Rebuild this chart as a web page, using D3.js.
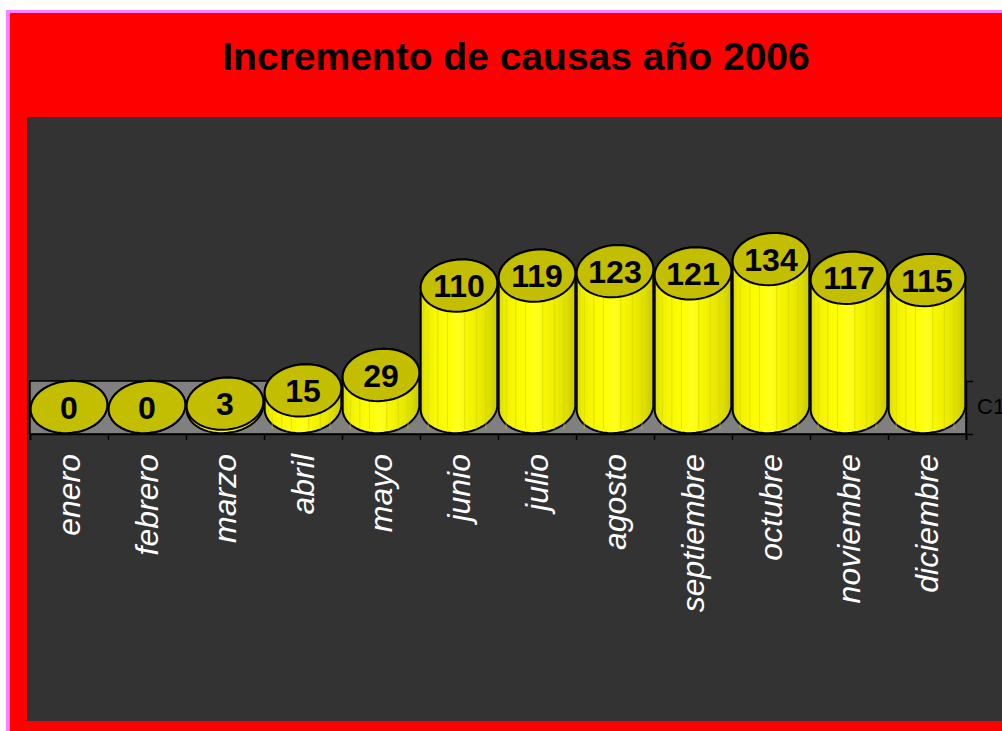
<!DOCTYPE html>
<html lang="es">
<head>
    <meta charset="UTF-8">
    <title>Incremento de causas año 2006</title>
    <script src="https://d3js.org/d3.v7.min.js"></script>
    <style>
        body { margin: 0; background: #fff; overflow: hidden; }
        text { font-family: "Liberation Sans", Arial, sans-serif; }
    </style>
</head>
<body>
    <div id="chart"></div>
    <script>
        // data
        const months = ["enero", "febrero", "marzo", "abril", "mayo", "junio",
                        "julio", "agosto", "septiembre", "octubre", "noviembre", "diciembre"];
        const causas = [0, 0, 3, 15, 29, 110, 119, 123, 121, 134, 117, 115];
        const seriesName = "C1";
        const chartTitle = "Incremento de causas año 2006";

        const width = 1002;
        const height = 731;

        // plot area (floor of the 3d chart)
        const floor = { left: 30, right: 966, top: 381, bottom: 434 };
        const baseY = 407;          // centre of the base ellipse
        const rx = 38.5, ry = 26;   // cylinder ellipse radii
        const tilt = -6 * Math.PI / 180;

        const svg = d3.select("#chart")
            .append("svg")
            .attr("width", width)
            .attr("height", height);

        // frame: pink border, red background, dark plot
        svg.append("rect")
            .attr("x", 6).attr("y", 10)
            .attr("width", width).attr("height", height)
            .attr("fill", "#ff80ff");
        svg.append("rect")
            .attr("x", 10).attr("y", 13)
            .attr("width", width).attr("height", height)
            .attr("fill", "#ff0000");
        svg.append("rect")
            .attr("x", 27).attr("y", 117)
            .attr("width", width).attr("height", 721 - 117)
            .attr("fill", "#333333");

        // title
        svg.append("text")
            .attr("x", 516)
            .attr("y", 70)
            .attr("text-anchor", "middle")
            .attr("font-size", 39)
            .attr("font-weight", "bold")
            .attr("fill", "#000")
            .text(chartTitle);

        // scales
        const xScale = d3.scaleBand()
            .domain(months)
            .range([floor.left, floor.right])
            .padding(0);

        const yScale = d3.scaleLinear()
            .domain([0, 140])
            .range([baseY, baseY - 140 * 1.104]);

        const tickScale = d3.scaleLinear()
            .domain([0, months.length])
            .range([floor.left, floor.right]);

        // gradient for the cylinder sides
        const defs = svg.append("defs");
        const grad = defs.append("linearGradient")
            .attr("id", "side")
            .attr("x1", 0).attr("x2", 1).attr("y1", 0).attr("y2", 0);
        [[0, "#d8d800"], [0.08, "#eeee00"], [0.2, "#f8f800"], [0.35, "#ffff00"],
         [0.5, "#ffff20"], [0.62, "#f6f600"], [0.78, "#eaea00"], [0.9, "#dcdc00"], [1, "#c8c800"]]
            .forEach(s => grad.append("stop").attr("offset", s[0]).attr("stop-color", s[1]));

        // floor
        svg.append("rect")
            .attr("x", floor.left)
            .attr("y", floor.top)
            .attr("width", floor.right - floor.left)
            .attr("height", floor.bottom - floor.top)
            .attr("fill", "#808080")
            .attr("stroke", "#000")
            .attr("stroke-width", 1.5);

        // bottom axis with ticks at category edges
        svg.append("g")
            .attr("transform", `translate(0,${floor.bottom})`)
            .call(d3.axisBottom(tickScale).ticks(months.length).tickFormat("").tickSizeOuter(6).tickSize(6))
            .call(g => g.selectAll("line, path").attr("stroke", "#000").attr("stroke-width", 1.5));

        // depth axis on the right
        const depthScale = d3.scalePoint().domain(["", seriesName]).range([floor.bottom, floor.top]);
        svg.append("g")
            .attr("transform", `translate(${floor.right},0)`)
            .call(d3.axisRight(depthScale).tickFormat("").tickSize(7).tickSizeOuter(0))
            .call(g => g.selectAll("line, path").attr("stroke", "#000").attr("stroke-width", 1.5));

        svg.append("text")
            .attr("x", 977)
            .attr("y", 414)
            .attr("font-size", 22)
            .attr("fill", "#000")
            .text(seriesName);

        // ellipse points (slightly tilted, like the original)
        function ellipsePoints(cx, cy) {
            const pts = [];
            for (let i = 0; i < 48; i++) {
                const t = i / 48 * 2 * Math.PI;
                pts.push([
                    cx + rx * Math.cos(t) * Math.cos(tilt) - ry * Math.sin(t) * Math.sin(tilt),
                    cy + rx * Math.cos(t) * Math.sin(tilt) + ry * Math.sin(t) * Math.cos(tilt)
                ]);
            }
            return pts;
        }
        const closed = d3.line().curve(d3.curveLinearClosed);

        const bars = svg.selectAll(".cyl")
            .data(months.map((m, i) => ({ month: m, value: causas[i] })))
            .enter()
            .append("g")
            .attr("class", "cyl");

        // side of the cylinder = hull of the top and base ellipses
        bars.append("path")
            .attr("d", d => {
                const cx = xScale(d.month) + xScale.bandwidth() / 2;
                const pts = ellipsePoints(cx, yScale(0)).concat(ellipsePoints(cx, yScale(d.value)));
                return closed(d3.polygonHull(pts));
            })
            .attr("fill", "url(#side)")
            .attr("stroke", "#000")
            .attr("stroke-width", 2);

        // faint vertical stripes on the side
        [-0.8, -0.55, -0.3, 0.15, 0.45, 0.7].forEach(f => {
            bars.filter(d => d.value > 5)
                .append("line")
                .attr("x1", d => xScale(d.month) + xScale.bandwidth() / 2 + f * rx)
                .attr("x2", d => xScale(d.month) + xScale.bandwidth() / 2 + f * rx)
                .attr("y1", d => yScale(d.value) + ry * 0.9)
                .attr("y2", d => yScale(0) + ry * 0.85)
                .attr("stroke", "#d0d000")
                .attr("stroke-opacity", 0.6)
                .attr("stroke-width", 1);
        });

        // top ellipse
        bars.append("path")
            .attr("d", d => closed(ellipsePoints(xScale(d.month) + xScale.bandwidth() / 2, yScale(d.value))))
            .attr("fill", "#c4be00")
            .attr("stroke", "#000")
            .attr("stroke-width", 2);

        // value labels
        bars.append("text")
            .attr("x", d => xScale(d.month) + xScale.bandwidth() / 2)
            .attr("y", d => yScale(d.value))
            .attr("dy", "0.36em")
            .attr("text-anchor", "middle")
            .attr("font-size", 32)
            .attr("font-weight", "bold")
            .attr("fill", "#000")
            .text(d => d.value);

        // category labels, rotated
        svg.selectAll(".month")
            .data(months)
            .enter()
            .append("text")
            .attr("class", "month")
            .attr("transform", d => `translate(${xScale(d) + xScale.bandwidth() / 2 + 11},454) rotate(-90)`)
            .attr("text-anchor", "end")
            .attr("font-size", 32)
            .attr("font-style", "italic")
            .attr("fill", "#fff")
            .text(d => d);
    </script>
</body>
</html>
